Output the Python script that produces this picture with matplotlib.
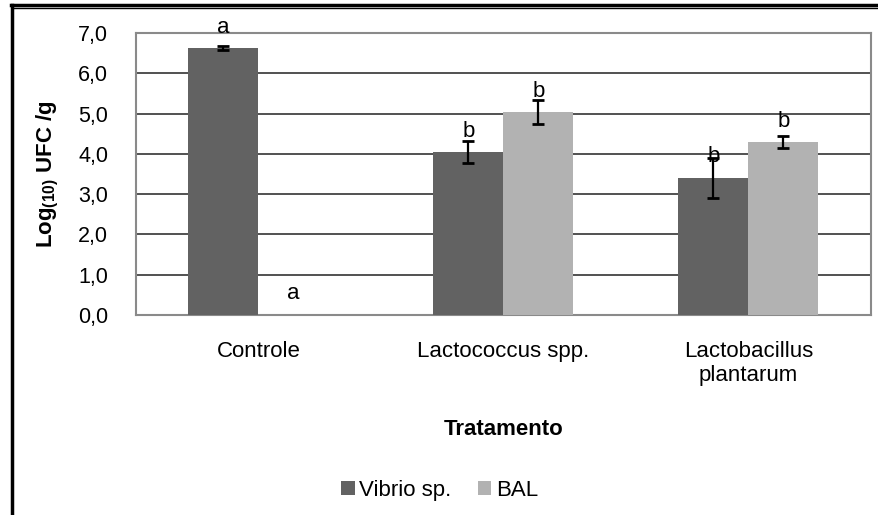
import matplotlib.pyplot as plt
import numpy as np
from matplotlib.lines import Line2D

plt.rcParams['font.family'] = ['Liberation Sans', 'DejaVu Sans']
plt.rcParams['mathtext.fontset'] = 'custom'
plt.rcParams['mathtext.rm'] = 'Liberation Sans:bold'
plt.rcParams['mathtext.default'] = 'rm'

# data
categories = ["Controle", "Lactococcus spp.", "Lactobacillus\nplantarum"]
vibrio = [6.63, 4.04, 3.40]
vibrio_err = [0.05, 0.27, 0.50]
bal = [0.0, 5.04, 4.29]
bal_err = [0.0, 0.30, 0.15]
vibrio_letters = ["a", "b", "b"]
bal_letters = ["a", "b", "b"]
# baseline heights of the significance letters
vibrio_letter_y = [7.0, 4.42, 3.80]
bal_letter_y = [0.40, 5.41, 4.67]

c_vibrio = "#626262"
c_bal = "#b2b2b2"

fig = plt.figure(figsize=(8.79, 5.15), dpi=100)
ax = fig.add_axes([0.1547, 0.3883, 0.836, 0.5476])

x = np.arange(len(categories))
width = 0.286

ax.bar(x - width/2, vibrio, width, color=c_vibrio, label="Vibrio sp.", zorder=3)
ax.bar(x + width/2, bal, width, color=c_bal, label="BAL", zorder=3)

ax.errorbar(x - width/2, vibrio, yerr=vibrio_err, fmt="none", ecolor="black",
            elinewidth=1.6, capsize=4, capthick=2, zorder=4)
mask = np.array(bal_err) > 0
ax.errorbar((x + width/2)[mask], np.array(bal)[mask], yerr=np.array(bal_err)[mask],
            fmt="none", ecolor="black", elinewidth=1.6, capsize=4, capthick=2, zorder=4)

for xi, lab, yy in zip(x - width/2, vibrio_letters, vibrio_letter_y):
    ax.text(xi, yy, lab, ha="center", va="baseline", fontsize=16, clip_on=False, zorder=5)
for xi, lab, yy in zip(x + width/2, bal_letters, bal_letter_y):
    ax.text(xi, yy, lab, ha="center", va="baseline", fontsize=16, clip_on=False, zorder=5)

ax.set_xlim(-0.5, len(categories) - 0.5)
ax.set_ylim(0, 7)
ax.set_yticks(np.arange(0, 8, 1))
ax.set_yticklabels([f"{v:.1f}".replace(".", ",") for v in np.arange(0, 8, 1)], fontsize=15.5)
ax.set_xticks(x)
ax.set_xticklabels(categories, fontsize=16, linespacing=1.15)
ax.tick_params(axis="y", length=0, pad=20)
ax.tick_params(axis="x", length=0, pad=19)

ax.yaxis.grid(True, color="#333333", linewidth=1.2, zorder=0)
ax.set_axisbelow(True)
for s in ax.spines.values():
    s.set_color("#8a8a8a")
    s.set_linewidth(1.5)

ax.set_xlabel("Tratamento", fontsize=16, fontweight="bold", labelpad=24)
ax.set_ylabel(r"Log$_{(10)}$ UFC /g", fontsize=16, fontweight="bold", labelpad=12)

fig.legend(loc="center", bbox_to_anchor=(0.5, 0.048), ncol=2, frameon=False,
           fontsize=16, handlelength=0.6, handleheight=0.6, handletextpad=0.2,
           columnspacing=1.2)

# outer chart border (left and top)
fig.add_artist(Line2D([0.0137, 0.0137], [0.0, 0.99], color="black", lw=2.5,
                      transform=fig.transFigure))
fig.add_artist(Line2D([0.012, 1.0], [0.99, 0.99], color="black", lw=2.5,
                      transform=fig.transFigure))
fig.add_artist(Line2D([0.0137, 1.0], [0.984, 0.984], color="black", lw=1,
                      transform=fig.transFigure))

fig.savefig("out.png", dpi=100)
